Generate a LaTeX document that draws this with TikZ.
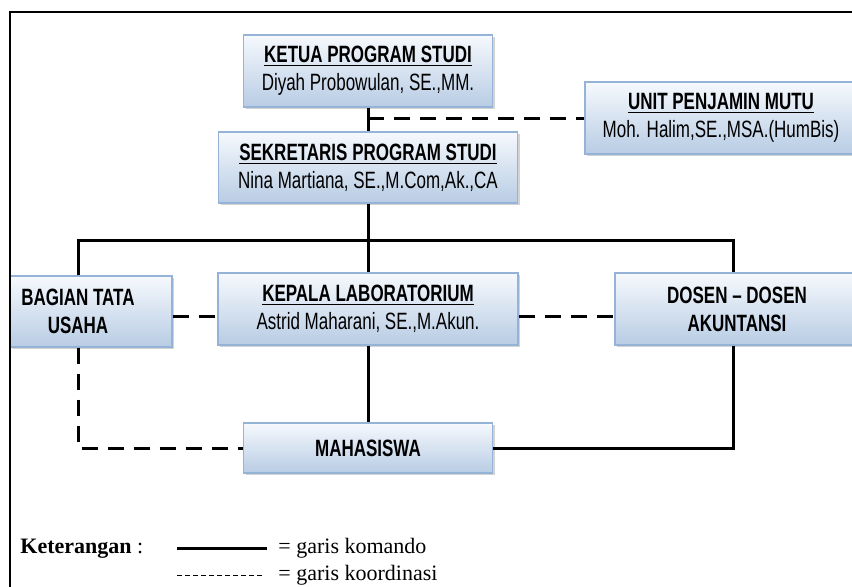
\documentclass[tikz,border=0pt]{standalone}
\usepackage{fontspec}
\setmainfont{Liberation Serif}
\newfontfamily\narrowfont[FakeStretch=0.72,Ligatures=TeX]{Liberation Sans}
\usetikzlibrary{shadows,calc}
\definecolor{boxline}{RGB}{149,179,215}
\definecolor{boxtop}{RGB}{246,249,253}
\definecolor{boxbottom}{RGB}{184,204,228}

\begin{document}
\begin{tikzpicture}[x=0.5pt,y=-0.5pt,
    jabatan/.style={draw=boxline,line width=0.6pt,top color=boxtop,bottom color=boxbottom,
        drop shadow={shadow xshift=1.2pt,shadow yshift=-1.2pt,opacity=0.35},
        align=center,inner sep=0pt,font=\narrowfont\fontsize{11.8}{14}\selectfont},
    boxtext/.style={align=center,font=\narrowfont\fontsize{11.8}{14}\selectfont},
    legenda/.style={inner sep=0pt,font=\fontsize{11}{13}\selectfont},
    komando/.style={line width=1.5pt},
    koordinasi/.style={line width=1.5pt,dash pattern=on 8pt off 5pt}]
                    \useasboundingbox (0,0) rectangle (852,586);

                    \node [jabatan,minimum width=124.5pt,minimum height=36pt] (ketua) at (368,71) {\textbf{\underline{KETUA PROGRAM STUDI}}\\Diyah Probowulan, SE.,MM.};
                    \node [jabatan,minimum width=136pt,minimum height=36pt] (unit) at (721,118) {\textbf{\underline{UNIT PENJAMIN MUTU}}\\Moh. Halim,SE.,MSA.(HumBis)};
                    \node [jabatan,minimum width=149.5pt,minimum height=35.5pt] (sekretaris) at (368,167.5) {\textbf{\underline{SEKRETARIS PROGRAM STUDI}}\\Nina Martiana, SE.,M.Com,Ak.,CA};

                    \node [jabatan,minimum width=81pt,minimum height=35.5pt,
                        label={[boxtext,xshift=-6.5pt]center:{\textbf{BAGIAN TATA}\\\textbf{USAHA}}}] (bagian) at (91,311.5) {};
                    \node [jabatan,minimum width=150pt,minimum height=36pt] (kepala) at (368,309) {\textbf{\underline{KEPALA LABORATORIUM}}\\Astrid Maharani, SE.,M.Akun.};
                    \node [jabatan,minimum width=122pt,minimum height=36pt] (dosen) at (737,309) {\textbf{DOSEN -- DOSEN}\\\textbf{AKUNTANSI}};
                    \node [jabatan,minimum width=124.5pt,minimum height=25pt] (mahasiswa) at (368,448) {\textbf{MAHASISWA}};

                    \coordinate (busL) at (78,240);
                    \coordinate (busR) at (733,240);
                    \coordinate (baris) at (0,316);

                    \draw [komando] (ketua.south) -- (sekretaris.north);
                    \draw [komando] (sekretaris.south) -- (kepala.north);
                    \draw [komando] (busL |- bagian.north) -- (busL) -- (busR) -- (busR |- dosen.north);
                    \draw [komando] (kepala.south) -- (mahasiswa.north);
                    \draw [komando] (busR |- dosen.south) |- (mahasiswa.east);

                    \draw [koordinasi] (unit.west -| ketua.south) -- (unit.west);
                    \draw [koordinasi] (bagian.east |- baris) -- (kepala.west |- baris);
                    \draw [koordinasi] (kepala.east |- baris) -- (dosen.west |- baris);
                    \draw [koordinasi] (busL |- bagian.south) |- (mahasiswa.west);

                    \draw [line width=1pt] (10,600) -- (10,12) -- (870,12);

                    \node [legenda,anchor=base west] (keterangan) at (20,553) {\textbf{Keterangan} :};
                    \coordinate (kom1) at (177,548);
                    \coordinate (kom2) at (267,548);
                    \coordinate (kor1) at (177,575);
                    \coordinate (kor2) at (265,575);
                    \draw [komando] (kom1) -- (kom2);
                    \draw [line width=0.5pt,dash pattern=on 2.5pt off 1.5pt] (kor1) -- (kor2);
                    \node [legenda,anchor=base west] (komandoteks) at (278,553) {= garis komando};
                    \node [legenda,anchor=base west] (koordinasiteks) at (278,580) {= garis koordinasi};
                \end{tikzpicture}
\end{document}
